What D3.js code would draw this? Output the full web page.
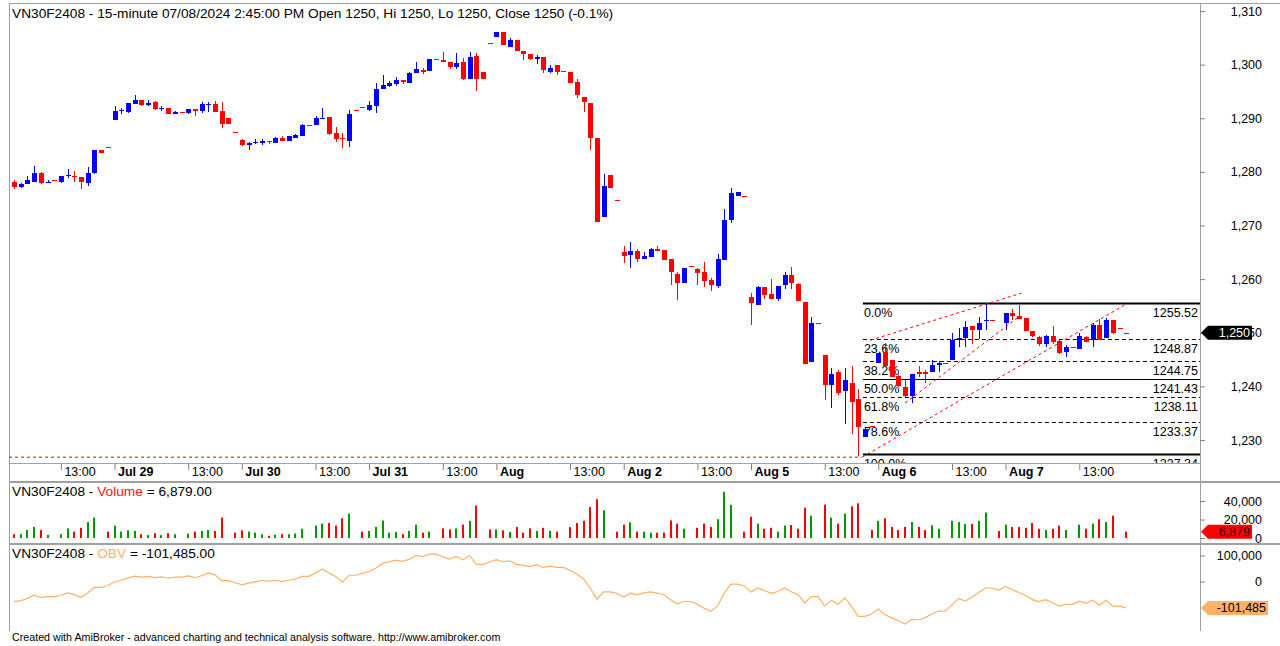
<!DOCTYPE html>
<HTML>
<HEAD>
<meta charset="utf-8">
<TITLE>VN30F2408 15-minute</TITLE>
<STYLE>
body { margin: 0; background: #fff; }
svg { display: block; font-family: "Liberation Sans", Arial, sans-serif; }
</STYLE>
<SCRIPT type="text/javascript" src="https://d3js.org/d3.v7.min.js"></SCRIPT>
</HEAD>
<BODY>
<svg id="chart" width="1280" height="646"></svg>
<SCRIPT type="text/javascript">
// ---- data ----
const days = ["Jul 26", "Jul 29", "Jul 30", "Jul 31", "Aug", "Aug 2", "Aug 5", "Aug 6", "Aug 7"];
const sessionTimes = ["9:00", "9:15", "9:30", "9:45", "10:00", "10:15", "10:30", "10:45", "11:00", "11:15", "11:30",
                      "13:00", "13:15", "13:30", "13:45", "14:00", "14:15", "14:30", "14:45"];
const FIRST_BAR = 4; // Jul 26 starts at 10:00 on screen

const openP = [1278.2,1277.1,1277.7,1278.2,1279.8,1277.9,1278.4,1278.2,1279.2,1279.2,1279.0,1278.0,1279.8,1284.0,1284.7,
1289.7,1291.4,1291.2,1292.7,1293.4,1292.5,1293.1,1291.7,1291.9,1290.8,1291.1,1291.0,1291.7,1291.4,1292.5,1292.6,1291.3,1290.0,1287.5,
1286.0,1285.1,1285.3,1285.3,1285.8,1285.4,1286.3,1285.8,1286.4,1286.6,1288.8,1288.8,1289.9,1290.2,1287.2,1286.4,1285.8,1291.5,1292.1,
1291.5,1292.2,1295.4,1296.0,1296.4,1297.1,1296.6,1298.4,1299.0,1298.8,1301.0,1300.9,1300.4,1299.6,1300.5,1297.4,1301.6,1298.6,1304.0,
1305.2,1306.0,1303.3,1304.5,1302.5,1301.9,1301.0,1301.5,1298.6,1299.9,1298.8,1298.7,1296.7,1294.0,1292.9,1286.4,1271.5,1279.5,1274.7,
1265.1,1264.5,1265.2,1263.7,1264.1,1265.7,1265.5,1263.7,1260.9,1259.3,1262.4,1261.8,1261.4,1259.8,1258.7,1263.6,1271.1,1275.5,1275.5,
1256.6,1255.2,1258.6,1257.2,1256.3,1258.9,1260.8,1259.1,1255.8,1244.5,1251.8,1245.9,1240.2,1242.6,1239.2,1240.7,1237.6,1230.5,1232.7,
1244.3,1246.5,1244.9,1241.9,1239.8,1238.2,1242.7,1242.6,1242.6,1244.0,1244.3,1244.9,1248.6,1249.0,1251.3,1250.5,1252.2,1252.3,null,
1251.8,1253.6,1253.1,1252.7,1250.4,1249.3,1247.9,1249.4,1248.5,1246.5,1247.3,1246.9,1249.3,1248.6,1251.4,1249.0,1252.3,1250.9,1250.0];
const highP = [1278.4,1278.0,1279.2,1281.1,1280.0,1278.5,1278.4,1279.3,1280.6,1280.1,1279.1,1281.0,1284.0,1284.0,1284.7,
1292.2,1292.0,1292.9,1294.3,1293.4,1293.4,1293.2,1292.3,1292.0,1291.4,1291.1,1291.8,1291.8,1293.1,1293.0,1293.2,1293.1,1290.0,1287.5,
1286.1,1285.6,1286.2,1286.1,1285.8,1286.5,1286.6,1286.6,1287.0,1289.0,1288.8,1290.4,1292.0,1290.2,1288.3,1287.2,1291.5,1291.5,1292.1,
1293.2,1296.5,1298.1,1296.9,1297.6,1297.1,1298.6,1300.5,1299.4,1301.0,1301.0,1302.3,1300.4,1302.2,1301.2,1302.3,1302.1,1298.6,1304.0,
1306.0,1306.0,1304.9,1304.5,1302.5,1301.9,1301.8,1301.5,1299.9,1299.9,1298.8,1298.7,1297.3,1294.0,1292.9,1286.4,1279.6,1279.5,1274.7,
1266.2,1266.9,1265.6,1265.0,1265.8,1266.2,1265.5,1263.8,1261.4,1262.1,1262.4,1262.1,1263.2,1260.3,1264.6,1273.0,1276.9,1276.2,1275.5,
1257.4,1258.8,1258.6,1260.0,1258.8,1261.3,1262.2,1259.2,1255.8,1253.0,1251.8,1245.9,1243.4,1243.1,1243.4,1243.8,1239.6,1232.5,1232.7,
1246.3,1248.0,1245.0,1242.1,1241.2,1242.4,1243.8,1243.0,1244.9,1244.8,1244.3,1249.9,1250.8,1252.1,1251.3,1253.0,1255.5,1252.3,null,
1253.6,1254.4,1255.2,1252.7,1250.4,1249.4,1249.6,1251.3,1248.6,1247.7,1247.3,1249.9,1249.4,1251.8,1252.5,1252.7,1252.3,1250.9,1250.0];
const lowP = [1276.8,1277.0,1277.7,1278.2,1277.8,1277.9,1278.4,1278.0,1278.9,1278.1,1276.8,1277.4,1279.6,1283.6,1284.7,
1289.7,1290.7,1291.0,1292.7,1292.3,1292.2,1291.6,1291.4,1290.7,1290.8,1291.1,1290.8,1290.4,1290.9,1291.2,1291.2,1288.2,1289.0,1287.5,
1284.8,1284.0,1285.2,1285.0,1285.2,1285.4,1285.7,1285.8,1286.4,1286.6,1288.8,1288.8,1289.9,1286.8,1285.5,1284.5,1284.6,1291.5,1292.1,
1291.4,1291.0,1295.4,1295.8,1296.1,1296.4,1296.6,1298.4,1298.2,1298.8,1301.0,1300.4,1299.2,1299.2,1297.1,1297.4,1295.1,1297.4,1304.0,
1305.2,1303.7,1303.3,1302.5,1300.9,1300.9,1300.2,1298.4,1298.4,1298.1,1298.8,1296.5,1293.7,1291.2,1284.1,1270.7,1271.5,1276.9,1274.7,
1263.1,1262.0,1263.2,1263.7,1264.1,1265.3,1263.5,1258.9,1256.1,1259.3,1262.4,1258.9,1258.6,1257.8,1258.4,1263.6,1270.5,1275.5,1275.5,
1251.4,1255.1,1256.3,1256.3,1255.9,1258.2,1258.1,1255.9,1244.2,1244.5,1251.8,1237.5,1235.9,1238.4,1233.0,1231.1,1227.0,1230.5,1232.7,
1244.3,1243.6,1241.7,1239.8,1238.1,1236.9,1241.7,1240.7,1242.6,1242.6,1244.3,1244.9,1247.4,1247.4,1247.9,1248.8,1250.5,1252.3,null,
1250.5,1252.4,1252.5,1250.4,1249.2,1247.5,1247.4,1247.9,1246.0,1245.4,1247.3,1246.9,1248.2,1247.4,1248.6,1249.0,1249.8,1250.9,1250.0];
const closeP = [1277.1,1277.8,1278.4,1279.7,1278.0,1278.2,1278.4,1279.2,1279.4,1279.0,1278.1,1279.7,1284.0,1283.6,1284.7,
1291.4,1291.5,1292.8,1293.4,1292.4,1292.8,1291.7,1292.0,1290.8,1291.2,1291.1,1291.7,1291.3,1292.6,1292.6,1291.2,1289.0,1289.0,1287.5,
1285.0,1285.4,1285.6,1285.8,1285.5,1286.4,1285.8,1286.6,1286.9,1288.7,1288.8,1290.0,1290.1,1287.0,1286.1,1286.1,1290.7,1291.5,1292.1,
1292.4,1295.4,1296.2,1296.6,1297.1,1296.8,1298.4,1299.1,1298.7,1301.0,1301.0,1300.4,1299.6,1300.3,1297.4,1301.4,1297.3,1297.4,1304.0,
1306.0,1303.7,1304.5,1302.6,1301.9,1301.0,1301.5,1299.0,1299.3,1298.7,1298.8,1296.5,1294.3,1293.1,1286.4,1270.7,1277.3,1276.9,1274.7,
1264.3,1265.3,1263.7,1264.4,1265.7,1265.3,1263.6,1261.3,1259.3,1262.1,1262.4,1261.1,1259.7,1258.9,1263.7,1271.0,1276.1,1276.2,1275.5,
1255.5,1258.6,1257.0,1256.3,1258.8,1260.8,1259.3,1255.9,1244.2,1251.9,1251.8,1240.3,1242.3,1238.8,1241.1,1237.0,1232.4,1232.0,1232.7,
1246.3,1243.8,1241.8,1240.0,1238.2,1242.4,1242.4,1242.3,1244.0,1244.3,1244.3,1248.6,1249.0,1251.0,1250.6,1251.9,1252.4,1252.3,null,
1253.6,1253.1,1252.5,1250.4,1249.4,1247.9,1249.4,1248.3,1246.3,1247.3,1247.3,1249.4,1248.2,1251.4,1248.6,1252.4,1249.9,1250.9,1250.0];
const volume = [4100,4100,8600,12000,8600,3400,0,4100,10300,6900,11000,17200,22000,0,6900,
13400,6900,8300,7600,4100,3100,5200,3100,5200,4100,0,4800,6900,7600,8600,7600,22000,0,5800,
8300,6900,5800,4100,2400,3400,4100,4100,4800,10000,0,13400,15500,16200,13400,21300,26500,0,6900,
7600,12000,18900,5800,6500,4100,7600,14400,5800,6900,0,10300,9300,10300,14400,18600,35100,0,9300,
9300,8300,6500,12000,5800,10300,7600,11000,7600,6900,0,11700,16200,18600,33400,42000,29900,0,6900,
14400,16900,6900,6900,5800,5800,5800,18900,15500,10000,0,11000,15500,12000,20300,49900,35800,0,6900,
23000,15500,10000,11000,6900,13400,14100,10000,32700,24100,0,36100,22000,15500,26500,34100,37500,0,8600,
18600,21300,12000,8600,12000,17200,12000,8600,13800,10000,0,18600,17200,15100,15100,18600,27500,0,7600,
14400,12000,12000,11000,16200,10000,8600,10000,13400,8600,0,14400,10000,15500,20300,17200,24100,0,6879];
const obv = [-77500,-73400,-64800,-52800,-61400,-58000,-58000,-53900,-43600,-50500,-61500,-44300,-22300,-22300,-15400,
-2000,4900,13200,20800,16700,19800,14600,17700,12500,16600,16600,21400,14500,22100,33000,25400,3400,3400,-4700,
-13000,-6100,-300,3800,1400,4800,700,4800,9600,19600,19600,33000,48500,32300,18900,-2400,24100,24100,31000,
38600,50600,69500,75300,81800,77700,85300,99700,96000,105000,105000,95000,86500,96500,83000,100000,66000,66000,75000,
84000,76000,79500,66000,62000,57000,65000,54000,59000,54000,54000,42000,29000,10000,-25000,-68000,-40000,-40000,-46000,
-60000,-45000,-51000,-44000,-40000,-45000,-51000,-70000,-86000,-77000,-77000,-88000,-103000,-115000,-95000,-45000,-10000,-10000,-17000,
-40000,-24500,-34500,-45500,-38600,-25200,-39300,-49300,-82000,-58000,-58000,-94000,-72000,-88000,-62000,-96000,-134000,-134000,-125000,
-106000,-128000,-140000,-150000,-164000,-146000,-148000,-139000,-125000,-114000,-114000,-90000,-65000,-75000,-60000,-42000,-25000,-25000,-33000,
-19000,-31000,-43000,-54000,-70000,-77000,-70000,-82000,-95000,-88000,-88000,-76000,-84000,-72000,-91000,-72000,-95000,-95000,-101485];

const priceTicks = [1230, 1240, 1250, 1260, 1270, 1280, 1290, 1300, 1310];
const volumeTicks = [0, 20000, 40000];
const obvTicks = [0, 100000];

const fibPct = ["0.0%", "23.6%", "38.2%", "50.0%", "61.8%", "78.6%", "100.0%"];
const fibPrice = [1255.52, 1248.87, 1244.75, 1241.43, 1238.11, 1233.37, 1227.34];
const FIB_START_BAR = 126.7;
// user trend lines: [bar, price] pairs
const trendLines = [
  [[127.8, 1248.6], [150.4, 1257.4]],
  [[133.0, 1236.9], [149.9, 1252.9]],
  [[126.6, 1226.8], [165.8, 1255.2]]
];
const LOW_LINE_PRICE = 1226.8;
const LOW_LINE_END_BAR = 126.5;

const titleText = "VN30F2408 - 15-minute 07/08/2024 2:45:00 PM Open 1250, Hi 1250, Lo 1250, Close 1250 (-0.1%)";

// ---- layout ----
const svg = d3.select("#chart");
const LEFT = 9, RIGHT = 1200;
const PRICE_TOP = 3, PRICE_BOTTOM = 463, AXIS_BOTTOM = 482;
const VOL_TOP = 483, VOL_BOTTOM = 543, OBV_TOP = 545, OBV_BOTTOM = 631;
const UP = "#0000FF", DOWN = "#FF0000";
const VUP = "#009900", VDOWN = "#FF0000";
const OBV_COLOR = "#FFB066";
const TITLE_SIZE = 13.7, LABEL_SIZE = 12.5;

const fmt = d3.formatLocale({ decimal: ".", thousands: ",", grouping: [3], currency: ["", ""], minus: "-" });
const fmtInt = fmt.format(",");
const fmt2 = fmt.format(",.2f");

const bars = [];
days.forEach(d => sessionTimes.forEach(t => bars.push({ day: d, time: t })));
bars.splice(0, FIRST_BAR);
bars.forEach((b, i) => {
  b.i = i; b.o = openP[i]; b.h = highP[i]; b.l = lowP[i]; b.c = closeP[i];
  b.v = volume[i]; b.obv = obv[i];
});

const x = d3.scaleLinear().domain([0, bars.length - 1]).range([14, 1126.2]);
const yPrice = d3.scaleLinear().domain([1230, 1310]).range([440, 11]);
const yVol = d3.scaleLinear().domain([0, 40000]).range([538, 501]);
const yObv = d3.scaleLinear().domain([0, 100000]).range([581.5, 555.5]);

const defs = svg.append("defs");
function clip(id, y0, y1) {
  defs.append("clipPath").attr("id", id).append("rect")
      .attr("x", LEFT).attr("y", y0).attr("width", RIGHT - LEFT).attr("height", y1 - y0);
}
clip("cpPrice", PRICE_TOP, PRICE_BOTTOM);
clip("cpVol", VOL_TOP, VOL_BOTTOM);
clip("cpObv", OBV_TOP, OBV_BOTTOM);

// frame
const frame = svg.append("g").attr("stroke", "#a0a0a0").attr("fill", "none");
frame.append("line").attr("x1", LEFT + 0.5).attr("x2", LEFT + 0.5).attr("y1", PRICE_TOP).attr("y2", OBV_BOTTOM);
frame.append("line").attr("x1", RIGHT + 0.5).attr("x2", RIGHT + 0.5).attr("y1", PRICE_TOP).attr("y2", OBV_BOTTOM);
frame.append("line").attr("x1", LEFT).attr("x2", 1280).attr("y1", PRICE_TOP + 0.5).attr("y2", PRICE_TOP + 0.5);
frame.append("line").attr("x1", LEFT).attr("x2", RIGHT).attr("y1", PRICE_BOTTOM + 0.5).attr("y2", PRICE_BOTTOM + 0.5);
frame.append("line").attr("x1", LEFT).attr("x2", 1280).attr("y1", AXIS_BOTTOM).attr("y2", AXIS_BOTTOM).attr("stroke-width", 2);
frame.append("line").attr("x1", LEFT).attr("x2", 1280).attr("y1", OBV_TOP - 1).attr("y2", OBV_TOP - 1).attr("stroke-width", 2);

// ---- price pane ----
const pricePane = svg.append("g").attr("clip-path", "url(#cpPrice)");

pricePane.append("line")
  .attr("x1", LEFT).attr("x2", x(LOW_LINE_END_BAR))
  .attr("y1", yPrice(LOW_LINE_PRICE)).attr("y2", yPrice(LOW_LINE_PRICE))
  .attr("stroke", "#FF0000").attr("stroke-dasharray", "3,3");

// fibonacci retracement
const fibG = pricePane.append("g");
fibPrice.forEach((p, k) => {
  const yy = Math.round(yPrice(p)) + 0.5;
  const thick = (k === 0 || k === fibPrice.length - 1);
  fibG.append("line")
    .attr("x1", x(FIB_START_BAR)).attr("x2", RIGHT).attr("y1", yy).attr("y2", yy)
    .attr("stroke", "#000").attr("stroke-width", thick ? 2 : 1)
    .attr("stroke-dasharray", (thick || k === 3) ? null : "4,3");
  fibG.append("text").attr("x", x(FIB_START_BAR) + 1).attr("y", yy + 13)
    .attr("font-size", LABEL_SIZE).text(fibPct[k]);
  fibG.append("text").attr("x", RIGHT - 2).attr("y", yy + 13).attr("text-anchor", "end")
    .attr("font-size", LABEL_SIZE).text(p.toFixed(2));
});

// candles
const drawn = bars.filter(b => b.o !== null);
const candle = pricePane.append("g").selectAll("g").data(drawn).enter().append("g")
  .attr("fill", d => d.c > d.o ? UP : DOWN).attr("stroke", d => d.c > d.o ? UP : DOWN)
  .attr("shape-rendering", "crispEdges");
candle.append("line")
  .attr("x1", d => Math.round(x(d.i)) + 0.5).attr("x2", d => Math.round(x(d.i)) + 0.5)
  .attr("y1", d => yPrice(d.h)).attr("y2", d => yPrice(d.l));
candle.append("rect")
  .attr("x", d => Math.round(x(d.i)) - 2).attr("width", 5)
  .attr("y", d => yPrice(Math.max(d.o, d.c)))
  .attr("height", d => Math.max(1, Math.abs(yPrice(d.o) - yPrice(d.c))))
  .attr("stroke", "none");

// trend lines
pricePane.append("g").selectAll("line").data(trendLines).enter().append("line")
  .attr("x1", d => x(d[0][0])).attr("y1", d => yPrice(d[0][1]))
  .attr("x2", d => x(d[1][0])).attr("y2", d => yPrice(d[1][1]))
  .attr("stroke", "#FF0000").attr("stroke-dasharray", "3,3");

svg.append("text").attr("x", 12).attr("y", 18).attr("font-size", TITLE_SIZE).text(titleText);

// price axis
const priceAxis = svg.append("g").attr("transform", `translate(${RIGHT},0)`)
  .call(d3.axisRight(yPrice).tickValues(priceTicks).tickFormat(fmtInt).tickSize(5));
function styleAxis(g) {
  g.select(".domain").remove();
  g.selectAll(".tick line").attr("stroke", "#808080");
  g.selectAll(".tick text").attr("x", 62).attr("text-anchor", "end")
    .attr("font-size", LABEL_SIZE).attr("font-family", "Liberation Sans, Arial, sans-serif").attr("fill", "#000");
}
styleAxis(priceAxis);

// time axis
const tickBars = bars.filter(b => b.time === "9:00" || b.time === "13:00");
const timeAxis = svg.append("g").attr("transform", `translate(0,${PRICE_BOTTOM + 1})`)
  .call(d3.axisBottom(x).tickValues(tickBars.map(b => b.i))
          .tickFormat(i => bars[i].time === "9:00" ? bars[i].day : bars[i].time).tickSize(6));
timeAxis.select(".domain").remove();
timeAxis.selectAll(".tick line").attr("stroke", "#808080");
timeAxis.selectAll(".tick text")
  .attr("x", 3).attr("y", 3).attr("dy", "0.71em").attr("text-anchor", "start")
  .attr("font-size", LABEL_SIZE).attr("font-family", "Liberation Sans, Arial, sans-serif").attr("fill", "#000")
  .attr("font-weight", i => bars[i].time === "9:00" ? "bold" : "normal");

// ---- volume pane ----
const volPane = svg.append("g").attr("clip-path", "url(#cpVol)");
volPane.selectAll("rect").data(bars.filter(b => b.v > 0)).enter().append("rect")
  .attr("x", d => Math.round(x(d.i)) - 1).attr("width", 2)
  .attr("y", d => yVol(d.v)).attr("height", d => yVol(0) - yVol(d.v))
  .attr("fill", d => (d.c !== null && d.c > d.o) ? VUP : VDOWN);

const volTitle = svg.append("text").attr("x", 12).attr("y", 496).attr("font-size", TITLE_SIZE);
volTitle.append("tspan").text("VN30F2408 - ");
volTitle.append("tspan").attr("fill", "#FF2020").text("Volume");
volTitle.append("tspan").text(" = " + fmt2(volume[volume.length - 1]));

const volAxis = svg.append("g").attr("transform", `translate(${RIGHT},0)`)
  .call(d3.axisRight(yVol).tickValues(volumeTicks).tickFormat(fmtInt).tickSize(5));
styleAxis(volAxis);

// ---- OBV pane ----
const obvPane = svg.append("g").attr("clip-path", "url(#cpObv)");
obvPane.append("path").datum(bars)
  .attr("d", d3.line().x(d => x(d.i)).y(d => yObv(d.obv)))
  .attr("fill", "none").attr("stroke", OBV_COLOR).attr("stroke-width", 1.2);

const obvTitle = svg.append("text").attr("x", 12).attr("y", 558).attr("font-size", TITLE_SIZE);
obvTitle.append("tspan").text("VN30F2408 - ");
obvTitle.append("tspan").attr("fill", OBV_COLOR).text("OBV");
obvTitle.append("tspan").text(" = " + fmt2(obv[obv.length - 1]));

const obvAxis = svg.append("g").attr("transform", `translate(${RIGHT},0)`)
  .call(d3.axisRight(yObv).tickValues(obvTicks).tickFormat(fmtInt).tickSize(5));
styleAxis(obvAxis);

// ---- last value badges ----
function badge(yy, label, fill, color, w) {
  const g = svg.append("g");
  g.append("path")
    .attr("d", `M${RIGHT + 1},${yy} L${RIGHT + 8},${yy - 7} L${RIGHT + 1 + w},${yy - 7} L${RIGHT + 1 + w},${yy + 7} L${RIGHT + 8},${yy + 7} Z`)
    .attr("fill", fill);
  g.append("text").attr("x", RIGHT + w - 1).attr("y", yy + 4.5).attr("text-anchor", "end")
    .attr("font-size", LABEL_SIZE).attr("fill", color).text(label);
}
badge(yPrice(closeP[closeP.length - 1]), fmtInt(closeP[closeP.length - 1]), "#000", "#fff", 51);
badge(yVol(volume[volume.length - 1]), fmtInt(volume[volume.length - 1]), "#FF0000", "#400000", 51);
badge(yObv(obv[obv.length - 1]), fmtInt(obv[obv.length - 1]), "#FFB066", "#000", 67);

svg.append("text").attr("x", 12).attr("y", 641).attr("font-size", 10.7)
  .text("Created with AmiBroker - advanced charting and technical analysis software. http://www.amibroker.com");
</SCRIPT>
</BODY>
</HTML>
